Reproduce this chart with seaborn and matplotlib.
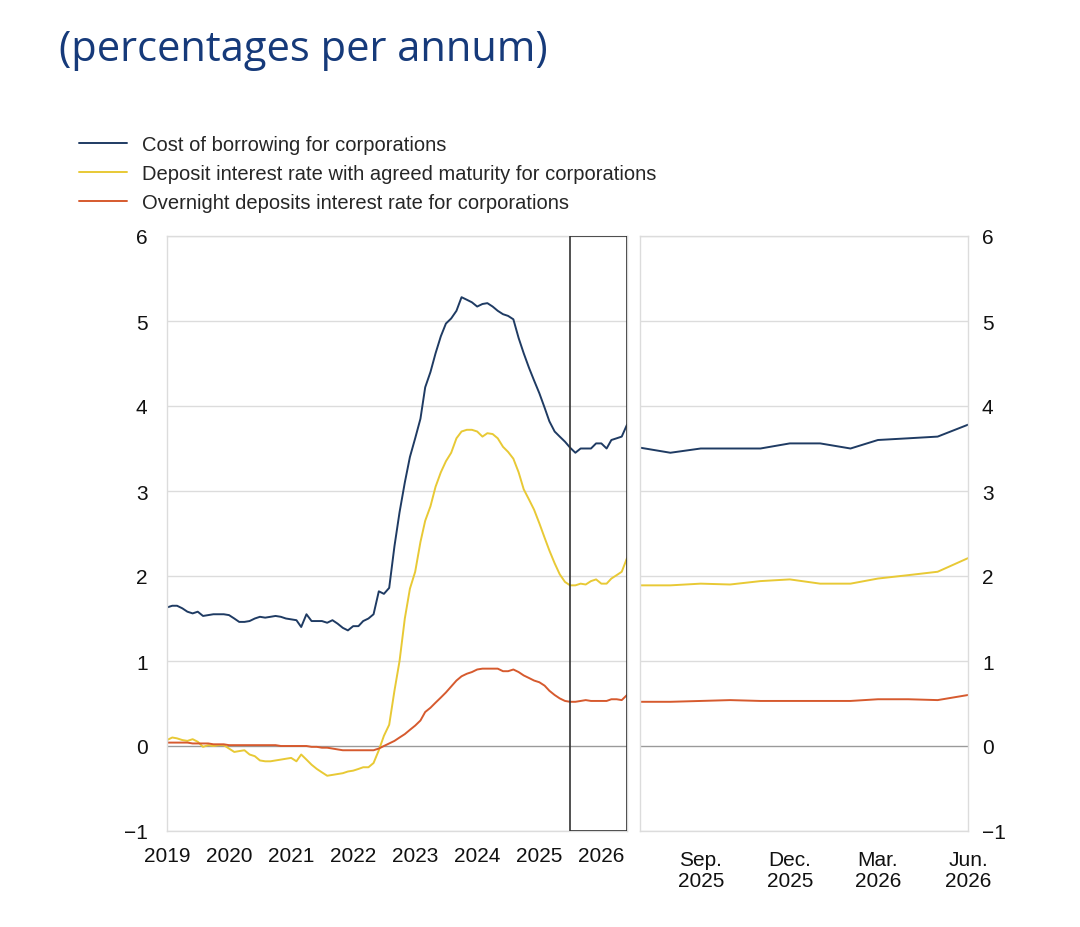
import numpy as np
import pandas as pd
import matplotlib
matplotlib.use("Agg")
import matplotlib.pyplot as plt
import matplotlib.dates as mdates
import seaborn as sns

# monthly observations, Jan 2019 - Jun 2026
months = pd.date_range("2019-01-01", "2026-06-01", freq="MS")

cost_borrowing = [
    1.63, 1.65, 1.65, 1.62, 1.58, 1.56, 1.58, 1.53, 1.54, 1.55, 1.55, 1.55,
    1.54, 1.50, 1.46, 1.46, 1.47, 1.50, 1.52, 1.51, 1.52, 1.53, 1.52, 1.50,
    1.49, 1.48, 1.40, 1.55, 1.47, 1.47, 1.47, 1.45, 1.48, 1.44, 1.39, 1.36,
    1.41, 1.41, 1.47, 1.50, 1.55, 1.82, 1.79, 1.86, 2.35, 2.75, 3.10, 3.40,
    3.62, 3.85, 4.22, 4.40, 4.62, 4.82, 4.97, 5.03, 5.12, 5.28, 5.25, 5.22,
    5.17, 5.20, 5.21, 5.17, 5.12, 5.08, 5.06, 5.02, 4.80, 4.62, 4.45, 4.30,
    4.15, 3.98, 3.82, 3.70, 3.64, 3.58, 3.51, 3.45, 3.50, 3.50, 3.50, 3.56,
    3.56, 3.50, 3.60, 3.62, 3.64, 3.78,
]
deposit_agreed = [
    0.07, 0.10, 0.09, 0.07, 0.06, 0.08, 0.05, -0.01, 0.01, 0.00, 0.01, 0.01,
    -0.03, -0.07, -0.06, -0.05, -0.10, -0.12, -0.17, -0.18, -0.18, -0.17, -0.16, -0.15,
    -0.14, -0.18, -0.10, -0.16, -0.22, -0.27, -0.31, -0.35, -0.34, -0.33, -0.32, -0.30,
    -0.29, -0.27, -0.25, -0.25, -0.20, -0.05, 0.12, 0.25, 0.65, 1.00, 1.50, 1.85,
    2.05, 2.40, 2.65, 2.82, 3.05, 3.22, 3.35, 3.45, 3.62, 3.70, 3.72, 3.72,
    3.70, 3.64, 3.68, 3.67, 3.62, 3.52, 3.46, 3.38, 3.22, 3.02, 2.90, 2.78,
    2.62, 2.45, 2.30, 2.15, 2.02, 1.93, 1.89, 1.89, 1.91, 1.90, 1.94, 1.96,
    1.91, 1.91, 1.97, 2.01, 2.05, 2.21,
]
overnight = [
    0.04, 0.04, 0.04, 0.04, 0.04, 0.03, 0.03, 0.03, 0.03, 0.02, 0.02, 0.02,
    0.01, 0.01, 0.01, 0.01, 0.01, 0.01, 0.01, 0.01, 0.01, 0.01, 0.00, 0.00,
    0.00, 0.00, 0.00, 0.00, -0.01, -0.01, -0.02, -0.02, -0.03, -0.04, -0.05, -0.05,
    -0.05, -0.05, -0.05, -0.05, -0.05, -0.03, 0.00, 0.03, 0.06, 0.10, 0.14, 0.19,
    0.24, 0.30, 0.40, 0.45, 0.51, 0.57, 0.63, 0.70, 0.77, 0.82, 0.85, 0.87,
    0.90, 0.91, 0.91, 0.91, 0.91, 0.88, 0.88, 0.90, 0.87, 0.83, 0.80, 0.77,
    0.75, 0.71, 0.65, 0.60, 0.56, 0.53, 0.52, 0.52, 0.53, 0.54, 0.53, 0.53,
    0.53, 0.53, 0.55, 0.55, 0.54, 0.60,
]

labels = [
    "Cost of borrowing for corporations",
    "Deposit interest rate with agreed maturity for corporations",
    "Overnight deposits interest rate for corporations",
]
colors = ["#1f3b63", "#e8c935", "#d65a2e"]

year_ticks = pd.date_range("2019-01-01", "2026-01-01", freq="YS")
zoom_start = pd.Timestamp("2025-07-01")
zoom_end = pd.Timestamp("2026-06-01")
zoom_ticks = pd.to_datetime(["2025-09-01", "2025-12-01", "2026-03-01", "2026-06-01"])
zoom_ticklabels = ["Sep.\n2025", "Dec.\n2025", "Mar.\n2026", "Jun.\n2026"]

df = pd.DataFrame({
    "date": np.tile(months, 3),
    "rate": cost_borrowing + deposit_agreed + overnight,
    "series": np.repeat(labels, len(months)),
})

sns.set_theme(style="white")
plt.rcParams["font.family"] = ["Liberation Sans", "DejaVu Sans"]

fig = plt.figure(figsize=(10.8, 9.28), dpi=100)
ax1 = fig.add_axes([167 / 1080, 96 / 928, 460 / 1080, 595 / 928])
ax2 = fig.add_axes([640 / 1080, 96 / 928, 328 / 1080, 595 / 928])

grid_col = "#dcdcdc"
for ax in (ax1, ax2):
    sns.lineplot(data=df, x="date", y="rate", hue="series", hue_order=labels,
                 palette=colors, linewidth=1.4, ax=ax, legend=False)
    ax.set_ylim(-1, 6)
    ax.set_yticks(range(-1, 7))
    ax.set_yticklabels(["\u22121", "0", "1", "2", "3", "4", "5", "6"])
    ax.yaxis.grid(True, color=grid_col, linewidth=1)
    ax.axhline(0, color="#9a9a9a", linewidth=0.9, zorder=1)
    ax.set_xlabel("")
    ax.set_ylabel("")
    for s in ax.spines.values():
        s.set_color(grid_col)
        s.set_linewidth(1)
    ax.tick_params(axis="both", length=0, labelsize=15, colors="#111111")
    ax.tick_params(axis="y", pad=14)
    ax.tick_params(axis="x", pad=11)

ax1.set_xlim(months[0], months[-1])
ax1.set_xticks(year_ticks)
ax1.xaxis.set_major_formatter(mdates.DateFormatter("%Y"))
ax1.axvspan(zoom_start, zoom_end, fill=False, edgecolor="#333333",
            linewidth=1.2, zorder=5)

ax2.set_xlim(zoom_start, zoom_end)
ax2.set_xticks(zoom_ticks)
ax2.set_xticklabels(zoom_ticklabels, linespacing=1.1)
ax2.yaxis.tick_right()
ax2.tick_params(axis="y", pad=10)
ax2.tick_params(axis="x", pad=14)

handles = [plt.Line2D([], [], color=c, linewidth=1.4) for c in colors]
fig.legend(handles, labels, loc="upper left", bbox_to_anchor=(0.066, 0.862),
           frameon=False, fontsize=14.5, handlelength=2.35, handletextpad=0.75,
           labelspacing=0.5, borderaxespad=0)

fig.text(0.055, 0.946, "(percentages per annum)", fontsize=30, color="#163a7a",
         family=["Open Sans", "DejaVu Sans"], va="center", ha="left")

fig.savefig("out.png", dpi=100, facecolor="white")
